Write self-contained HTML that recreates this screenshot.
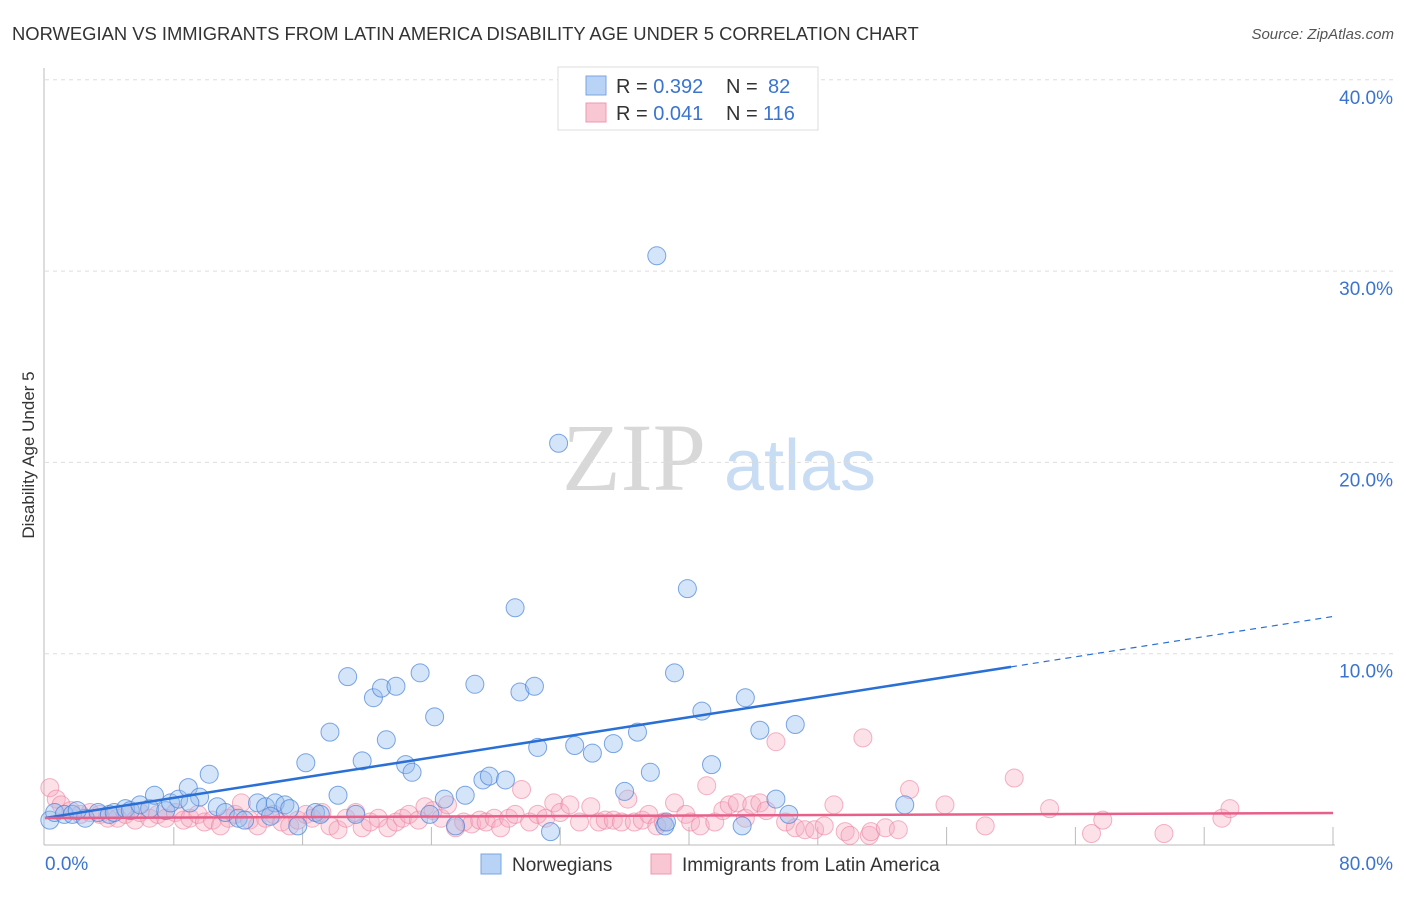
<!DOCTYPE html>
<html><head><meta charset="utf-8"><style>
body{margin:0;background:#fff;font-family:"Liberation Sans",sans-serif}
</style></head><body>
<svg id="chart" width="1406" height="892" xmlns="http://www.w3.org/2000/svg">
<text x="12" y="40" font-size="18.4" fill="#333">NORWEGIAN VS IMMIGRANTS FROM LATIN AMERICA DISABILITY AGE UNDER 5 CORRELATION CHART</text>
<text x="1394" y="39" font-size="15" fill="#555" font-style="italic" text-anchor="end">Source: ZipAtlas.com</text>
<text x="34" y="455" font-size="17" fill="#333" text-anchor="middle" transform="rotate(-90 34 455)">Disability Age Under 5</text>
<g>
<text x="634" y="490" font-size="96" fill="#d8d8d8" font-family="Liberation Serif,serif" text-anchor="middle">ZIP</text>
<text x="800" y="490" font-size="72" fill="#c8dcf3" text-anchor="middle">atlas</text>
</g>
<g id="grid"></g><g id="axes"></g><g id="pts"></g><g id="lines"></g>
<g>
<rect x="558" y="67" width="260" height="63" fill="#fff" stroke="#ddd"/>
<rect x="586" y="76" width="20" height="19" fill="#b8d3f5" stroke="#7aa6e0"/>
<rect x="586" y="103" width="20" height="19" fill="#f9c6d4" stroke="#eb9ab2"/>
<text x="616" y="93" font-size="20" fill="#333">R = <tspan fill="#3a74d0">0.392</tspan></text>
<text x="726" y="93" font-size="20" fill="#333">N =</text>
<text x="768" y="93" font-size="20" fill="#3a74d0">82</text>
<text x="616" y="120" font-size="20" fill="#333">R = <tspan fill="#3a74d0">0.041</tspan></text>
<text x="726" y="120" font-size="20" fill="#333">N =</text>
<text x="763" y="120" font-size="20" fill="#3a74d0">116</text>
</g>
<g>
<rect x="481" y="854" width="20" height="20" fill="#b8d3f5" stroke="#7aa6e0"/>
<text x="512" y="871" font-size="19" fill="#333">Norwegians</text>
<rect x="651" y="854" width="20" height="20" fill="#f9c6d4" stroke="#eb9ab2"/>
<text x="682" y="871" font-size="19" fill="#333">Immigrants from Latin America</text>
</g>
</svg>
<script>
const yTicks=[10,20,30,40];
const yTickLabels=["10.0%","20.0%","30.0%","40.0%"];
const xTickLabels=["0.0%","80.0%"];
const blueX=[0.3,0.6,1.2,1.7,2.5,3.3,4.0,4.3,5.0,5.3,5.9,6.5,6.8,7.5,7.8,8.3,8.9,9.6,10.2,10.7,11.2,12.0,12.4,13.2,13.7,14.3,14.9,15.2,15.7,16.2,16.8,17.1,17.7,18.2,18.8,19.3,19.7,20.4,20.9,21.2,21.8,22.4,22.8,23.3,23.9,24.2,24.8,25.5,26.1,26.7,27.2,27.6,28.6,29.2,29.5,30.4,30.6,31.4,31.9,32.9,34.0,35.3,36.0,36.8,37.6,38.0,38.5,39.1,39.9,40.8,41.4,43.3,43.5,44.4,45.4,46.2,46.6,53.4,38.6,2.0,9.0,14.0];
const blueY=[1.3,1.7,1.6,1.6,1.4,1.7,1.6,1.7,1.9,1.8,2.1,1.9,2.6,1.8,2.2,2.4,3.0,2.5,3.7,2.0,1.7,1.4,1.3,2.2,2.0,2.2,2.1,1.9,1.0,4.3,1.7,1.6,5.9,2.6,8.8,1.6,4.4,7.7,8.2,5.5,8.3,4.2,3.8,9.0,1.6,6.7,2.4,1.0,2.6,8.4,3.4,3.6,3.4,12.4,8.0,8.3,5.1,0.7,21.0,5.2,4.8,5.3,2.8,5.9,3.8,30.8,1.0,9.0,13.4,7.0,4.2,1.0,7.7,6.0,2.4,1.6,6.3,2.1,1.2,1.8,2.2,1.5];
const pinkX=[0.3,0.7,1.0,1.6,2.2,2.8,3.4,3.9,4.5,5.0,5.6,5.9,6.5,7.0,7.5,8.1,8.6,9.0,9.5,9.9,10.4,10.9,11.4,11.8,12.2,12.7,13.2,13.7,14.2,14.7,15.2,15.7,16.2,16.6,17.2,17.7,18.2,18.7,19.3,19.7,20.2,20.7,21.3,21.8,22.2,22.6,23.2,23.6,24.1,24.6,25.0,25.5,26.0,26.5,27.0,27.4,27.9,28.3,28.8,29.2,29.6,30.1,30.6,31.1,31.6,32.0,32.6,33.2,33.9,34.4,34.8,35.3,35.8,36.2,36.6,37.1,37.5,38.0,38.4,39.1,39.8,40.1,40.7,41.1,41.6,42.1,42.5,43.0,43.5,43.9,44.4,44.8,45.4,46.0,46.6,47.2,47.8,48.4,49.0,49.7,50.0,50.8,51.2,51.3,52.2,53.0,53.7,55.9,58.4,60.2,62.4,65.0,65.7,69.5,73.1,73.6];
const pinkY=[3.0,2.4,2.1,1.8,1.6,1.7,1.6,1.4,1.4,1.6,1.3,1.7,1.4,1.6,1.4,1.7,1.3,1.4,1.6,1.2,1.3,1.0,1.4,1.6,2.2,1.3,1.0,1.4,1.6,1.2,1.0,1.3,1.6,1.4,1.7,1.0,0.8,1.4,1.7,0.9,1.2,1.4,0.9,1.2,1.4,1.6,1.3,2.0,1.8,1.4,2.1,0.9,1.2,1.1,1.3,1.2,1.4,0.9,1.4,1.6,2.9,1.2,1.6,1.4,2.2,1.7,2.1,1.2,2.0,1.2,1.3,1.3,1.2,2.4,1.2,1.3,1.6,1.0,1.2,2.2,1.6,1.2,1.0,3.1,1.2,1.8,2.1,2.2,1.4,2.1,2.2,1.8,5.4,1.2,0.9,0.8,0.8,1.0,2.1,0.7,0.5,5.6,0.5,0.7,0.9,0.8,2.9,2.1,1.0,3.5,1.9,0.6,1.3,0.6,1.4,1.9];
const blueTrend=[1.41,0.1317];
const pinkTrend=[1.41,0.0033];
const X0=45,X1=1333,Y0=845,PX=(X1-X0)/80,PY=19.13;
const xs=v=>X0+v*PX, ys=v=>Y0-v*PY;
const NS="http://www.w3.org/2000/svg";
function mk(t,a,p){const e=document.createElementNS(NS,t);for(const k in a)e.setAttribute(k,a[k]);document.getElementById(p).appendChild(e);return e;}
yTicks.forEach((t,i)=>{
 const g=mk('line',{x1:45,x2:1395,y1:ys(t),y2:ys(t),stroke:'#ddd','stroke-dasharray':'4,4'},'grid');
 
 
 const l=mk('text',{x:1393,y:ys(t)+24,'font-size':19,fill:'#3a74d0','text-anchor':'end'},'grid');
 l.textContent=yTickLabels[i];
 
 
});
let a=mk('line',{x1:44,x2:44,y1:68,y2:845,stroke:'#bbb'},'axes');


a=mk('line',{x1:44,x2:1335,y1:845,y2:845,stroke:'#bbb'},'axes');


for(let i=1;i<=10;i++){const t=mk('line',{x1:xs(i*8),x2:xs(i*8),y1:827,y2:845,stroke:'#bbb'},'axes');
 
 }
let xl=mk('text',{x:45,y:870,'font-size':19,fill:'#3a74d0'},'axes');xl.textContent=xTickLabels[0];


xl=mk('text',{x:1393,y:870,'font-size':19,fill:'#3a74d0','text-anchor':'end'},'axes');xl.textContent=xTickLabels[1];


pinkX.forEach((x,i)=>{const c=mk('circle',{cx:xs(x),cy:ys(pinkY[i]),r:9,fill:'rgba(246,170,193,0.35)',stroke:'rgba(235,130,160,0.6)'},'pts');
 
 });
blueX.forEach((x,i)=>{const c=mk('circle',{cx:xs(x),cy:ys(blueY[i]),r:9,fill:'rgba(150,190,240,0.4)',stroke:'rgba(70,130,215,0.7)'},'pts');
 
 });
let ln=mk('line',{x1:xs(0),y1:ys(blueTrend[0]),x2:xs(60),y2:ys(blueTrend[0]+blueTrend[1]*60),stroke:'#2a6fd6','stroke-width':2.5},'lines');


ln=mk('line',{x1:xs(60),y1:ys(blueTrend[0]+blueTrend[1]*60),x2:xs(80),y2:ys(blueTrend[0]+blueTrend[1]*80),stroke:'#2a6fd6','stroke-width':1.2,'stroke-dasharray':'6,5'},'lines');


ln=mk('line',{x1:xs(0),y1:ys(pinkTrend[0]),x2:xs(80),y2:ys(pinkTrend[0]+pinkTrend[1]*80),stroke:'#e85f8a','stroke-width':2.5},'lines');


</script>
</body></html>
